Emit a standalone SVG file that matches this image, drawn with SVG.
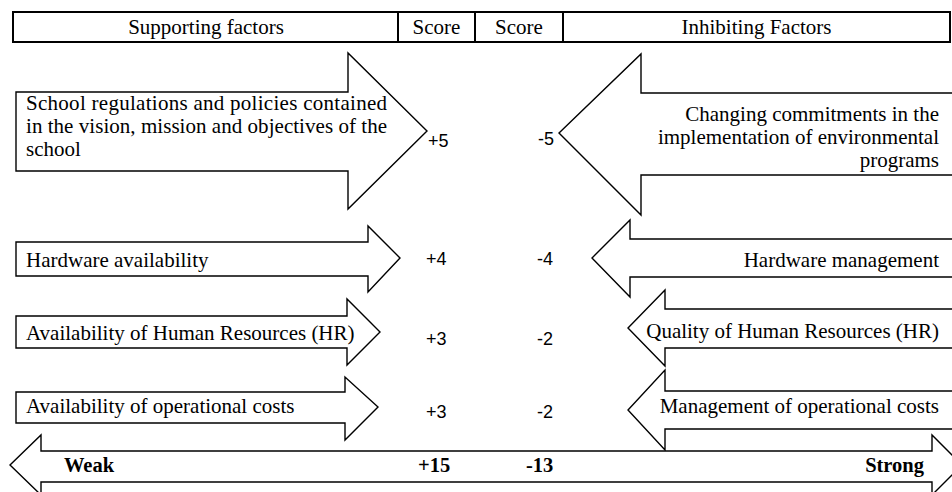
<svg xmlns="http://www.w3.org/2000/svg" width="952" height="492" viewBox="0 0 952 492">
<style>
.ar{fill:#fff;stroke:#000;stroke-width:1.4;stroke-linejoin:miter}
.hd{fill:#fff;stroke:#000;stroke-width:2}
.t{font-family:"Liberation Serif","Times New Roman",serif;font-size:21px;fill:#000}
.n{font-family:"Liberation Sans",Arial,sans-serif;font-size:18px;fill:#000}
.b{font-family:"Liberation Serif","Times New Roman",serif;font-size:20.5px;font-weight:bold;fill:#000}
.e{text-anchor:end}
.m{text-anchor:middle}
</style>
<rect width="952" height="492" fill="#fff"/>
<g id="header">
<rect class="hd" x="13" y="12" width="937" height="30"/>
<line class="hd" x1="398" y1="12" x2="398" y2="42"/>
<line class="hd" x1="475" y1="12" x2="475" y2="42"/>
<line class="hd" x1="563" y1="12" x2="563" y2="42"/>
<text class="t m" x="206" y="34">Supporting factors</text>
<text class="t m" x="436.5" y="34">Score</text>
<text class="t m" x="519" y="34">Score</text>
<text class="t m" x="756.5" y="34">Inhibiting Factors</text>
</g>
<g id="s1">
<path class="ar" d="M16,92 H348 V53 L427,131 L348,209 V171 H16 Z"/>
<text class="t" x="26" y="110" textLength="361" lengthAdjust="spacing">School regulations and policies contained</text>
<text class="t" x="26" y="133" textLength="361" lengthAdjust="spacing">in the vision, mission and objectives of the</text>
<text class="t" x="26" y="156">school</text>
<text class="n" x="428" y="147">+5</text>
</g>
<g id="s2">
<path class="ar" d="M16,242 H368 V226 L400,258 L368,292 V276 H16 Z"/>
<text class="t" x="26" y="267">Hardware availability</text>
<text class="n" x="426" y="265">+4</text>
</g>
<g id="s3">
<path class="ar" d="M16,316 H347 V299 L380,332 L347,365 V348 H16 Z"/>
<text class="t" x="26" y="340">Availability of Human Resources (HR)</text>
<text class="n" x="426" y="345">+3</text>
</g>
<g id="s4">
<path class="ar" d="M16,392 H345 V377 L378,407 L345,440 V423 H16 Z"/>
<text class="t" x="26" y="413">Availability of operational costs</text>
<text class="n" x="426" y="418">+3</text>
</g>
<g id="i1">
<path class="ar" d="M960,93 H641 V54 L559,133 L641,215 V175 H960"/>
<text class="t e" x="939" y="121">Changing commitments in the</text>
<text class="t e" x="939" y="144">implementation of environmental</text>
<text class="t e" x="939" y="167">programs</text>
<text class="n" x="538" y="145">-5</text>
</g>
<g id="i2">
<path class="ar" d="M960,239 H630 V220 L592,258 L630,297 V277 H960"/>
<text class="t e" x="939" y="267">Hardware management</text>
<text class="n" x="537" y="265">-4</text>
</g>
<g id="i3">
<path class="ar" d="M960,309 H665 V290 L628,328 L665,366 V348 H960"/>
<text class="t e" x="939" y="338">Quality of Human Resources (HR)</text>
<text class="n" x="537" y="345">-2</text>
</g>
<g id="i4">
<path class="ar" d="M960,391 H665 V370 L628,410 L665,450 V429 H960"/>
<text class="t e" x="939" y="413">Management of operational costs</text>
<text class="n" x="537" y="418">-2</text>
</g>
<g id="scale">
<path class="ar" d="M10,465 L41,435 V451 H932 V435 L962,465 L932,495 V482 H41 V495 Z"/>
<text class="b" x="64" y="472">Weak</text>
<text class="b" x="418" y="472">+15</text>
<text class="b" x="526" y="472">-13</text>
<text class="b e" x="924" y="472">Strong</text>
</g>
</svg>
